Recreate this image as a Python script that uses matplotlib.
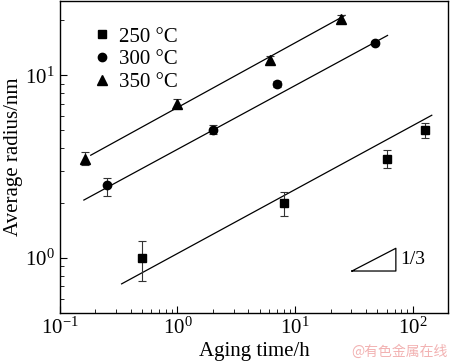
import matplotlib
matplotlib.use('Agg')
import matplotlib.pyplot as plt
import numpy as np

plt.rcParams['font.family'] = ['Liberation Serif', 'DejaVu Serif']
plt.rcParams['mathtext.fontset'] = 'custom'
plt.rcParams['mathtext.rm'] = 'Liberation Serif'
plt.rcParams['mathtext.it'] = 'Liberation Serif:italic'

# data
labels = ['250 °C', '300 °C', '350 °C']
markers = ['s', 'o', '^']

t_250 = [0.5, 8.0, 60.0, 128.0]
r_250 = [1.0, 2.0, 3.5, 5.05]
e_lo_250 = [0.25, 0.3, 0.4, 0.5]
e_hi_250 = [0.24, 0.3, 0.4, 0.45]

t_300 = [0.25, 2.0, 7.0, 48.0]
r_300 = [2.5, 5.05, 9.0, 15.1]
e_lo_300 = [0.3, 0.3, 0.35, 0.3]
e_hi_300 = [0.25, 0.3, 0.35, 0.3]

t_350 = [0.165, 1.0, 6.1, 24.5]
r_350 = [3.5, 7.0, 12.2, 20.4]
e_lo_350 = [0.25, 0.4, 0.6, 0.9]
e_hi_350 = [0.3, 0.4, 0.6, 0.9]

# fitted lines r = A * t^n
fit_A = [1.06, 3.94, 6.67]
fit_n = [0.35, 0.349, 0.354]
fit_t0 = [0.335, 0.16, 0.183]
fit_t1 = [145.0, 61.0, 26.5]

# slope triangle
tri_t = [30.4, 71.8]
tri_r0 = 0.85

fig = plt.figure(figsize=(4.5, 3.62), dpi=100)
ax = fig.add_axes([0.133, 0.135, 0.863, 0.862])

series = [(t_250, r_250, e_lo_250, e_hi_250),
          (t_300, r_300, e_lo_300, e_hi_300),
          (t_350, r_350, e_lo_350, e_hi_350)]
sizes = [5.2, 6, 6.5]
for i, (t, r, elo, ehi) in enumerate(series):
    ax.errorbar(t, r, yerr=[elo, ehi], fmt='none', ecolor='#333333',
                elinewidth=0.8, capsize=3, capthick=0.8, zorder=2)
    ax.plot(t, r, linestyle='none', marker=markers[i], color='black',
            markersize=sizes[i], label=labels[i], zorder=3)
    tt = np.logspace(np.log10(fit_t0[i]), np.log10(fit_t1[i]), 50)
    ax.plot(tt, fit_A[i] * tt ** fit_n[i], color='black', linewidth=0.9, zorder=1)

# 1/3 slope triangle
r1 = tri_r0 * (tri_t[1] / tri_t[0]) ** (1 / 3)
ax.plot([tri_t[0], tri_t[1], tri_t[1], tri_t[0]],
        [tri_r0, tri_r0, r1, tri_r0], color='black', linewidth=0.9)
ax.text(tri_t[1] * 1.08, np.sqrt(tri_r0 * r1), '1/3', fontsize=14,
        va='center', ha='left')

ax.set_xscale('log')
ax.set_yscale('log')
ax.set_xlim(0.1, 200)
ax.set_ylim(0.5, 25.5)

ax.tick_params(which='both', direction='in', labelsize=15, top=False, right=False)
ax.tick_params(which='major', length=5, width=0.8)
ax.tick_params(which='minor', length=3, width=0.6)
for s in ax.spines.values():
    s.set_linewidth(1.0)

ax.set_xlabel('Aging time/h', fontsize=15, labelpad=2)
ax.set_ylabel('Average radius/nm', fontsize=15, labelpad=2)

leg = ax.legend(loc='upper left', bbox_to_anchor=(0.04, 0.97), frameon=False,
                fontsize=15, handletextpad=0.3, labelspacing=0.15,
                handlelength=1.0, borderpad=0.3)

fig.text(0.995, 0.008, '@有色金属在线', fontsize=10, color='#f2b2b2',
         ha='right', va='bottom', family=['Noto Sans CJK SC', 'DejaVu Sans'])

fig.savefig('out.png', dpi=100)
